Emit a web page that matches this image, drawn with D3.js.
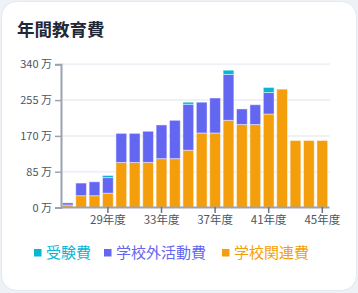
<!DOCTYPE html>
<html lang="ja">
<head>
<meta charset="UTF-8">
<title>年間教育費</title>
<script src="https://cdn.jsdelivr.net/npm/d3@7"></script>
<style>
  body { margin: 0; background: #eef2f7; font-family: "Noto Sans CJK JP", "Noto Sans", sans-serif; }
  svg { display: block; }
</style>
</head>
<body>
<script>
// 年度ごとの費用（万円）
var years = ["26年度","27年度","28年度","29年度","30年度","31年度","32年度","33年度","34年度","35年度",
             "36年度","37年度","38年度","39年度","40年度","41年度","42年度","43年度","44年度","45年度"];
var school = [6, 28, 28, 34, 107, 107, 107, 116, 116, 136, 177, 177, 207, 197, 197, 222, 281, 159, 159, 159];
var extra  = [5, 30, 33, 37, 69, 69, 74, 80, 91, 109, 73, 83, 109, 37, 47, 51, 0, 0, 0, 0];
var exam   = [0, 0, 0, 5, 0, 0, 0, 0, 0, 5, 0, 0, 10, 0, 0, 12, 0, 0, 0, 0];
var yTicks = [0, 85, 170, 255, 340];
var xTickYears = ["29年度","33年度","37年度","41年度","45年度"];

var seriesNames = ["学校関連費", "学校外活動費", "受験費"];
var colors = { "受験費": "#06b6d4", "学校外活動費": "#6366f1", "学校関連費": "#f59e0b" };

var w = 358, h = 293;
var svg = d3.select("body").append("svg").attr("width", w).attr("height", h);

// card
svg.append("rect")
  .attr("x", 1.5).attr("y", 1.5).attr("width", w - 3).attr("height", h - 4)
  .attr("rx", 15).attr("fill", "#fff").attr("stroke", "#e3e8ef");

svg.append("text")
  .attr("x", 17).attr("y", 36)
  .attr("font-size", 17.5).attr("font-weight", "bold").attr("fill", "#1f2937")
  .text("年間教育費");

var table = years.map(function(y, i) {
  return { year: y, "学校関連費": school[i], "学校外活動費": extra[i], "受験費": exam[i] };
});
var stacked = d3.stack().keys(seriesNames)(table);

var x = d3.scaleBand().domain(years).range([61, 329]).paddingInner(0.2).paddingOuter(0.1);
var y = d3.scaleLinear().domain([0, 340]).range([207.5, 64.3]);

// grid
svg.append("g").selectAll("line")
  .data(yTicks.slice(1))
  .enter().append("line")
  .attr("x1", 61).attr("x2", 330)
  .attr("y1", function(d) { return y(d); }).attr("y2", function(d) { return y(d); })
  .attr("stroke", "#eef2f7").attr("stroke-width", 2);

// bars
svg.append("g").selectAll("g")
  .data(stacked)
  .enter().append("g")
  .attr("fill", function(d) { return colors[d.key]; })
  .selectAll("rect")
  .data(function(d) { return d; })
  .enter().append("rect")
  .filter(function(d) { return d[1] - d[0] > 0; })
  .attr("x", function(d) { return x(d.data.year); })
  .attr("width", x.bandwidth())
  .attr("y", function(d) { return y(d[1]); })
  .attr("height", function(d) { return y(d[0]) - y(d[1]); })
  .attr("stroke", "#fff").attr("stroke-opacity", 0.45).attr("stroke-width", 1);

// y axis
var yAxis = svg.append("g")
  .attr("transform", "translate(61,0)")
  .call(d3.axisLeft(y).tickValues(yTicks).tickSize(6).tickPadding(3)
    .tickFormat(function(d) { return d + " 万"; }));
yAxis.select(".domain").attr("stroke", "#9ca3af").attr("stroke-width", 2);
yAxis.selectAll(".tick line").attr("stroke", "#9ca3af").attr("stroke-width", 1.5);
yAxis.selectAll("text").attr("font-size", 11).attr("fill", "#4b5563")
  .attr("font-family", "'Noto Sans CJK JP', sans-serif");

// x axis
var xAxis = svg.append("g")
  .attr("transform", "translate(0,207)")
  .call(d3.axisBottom(x).tickValues(xTickYears).tickSize(6).tickSizeOuter(0).tickPadding(3));
xAxis.select(".domain").attr("stroke", "#9ca3af").attr("stroke-width", 2);
xAxis.selectAll(".tick line").attr("stroke", "#6b7280").attr("stroke-width", 1.5);
xAxis.selectAll("text").attr("font-size", 11.5).attr("fill", "#4b5563")
  .attr("font-family", "'Noto Sans CJK JP', sans-serif");

// legend
var legendItems = [
  { name: "受験費", x: 34 },
  { name: "学校外活動費", x: 104 },
  { name: "学校関連費", x: 222 }
];
var lg = svg.append("g").selectAll("g")
  .data(legendItems)
  .enter().append("g")
  .attr("transform", function(d) { return "translate(" + d.x + ",0)"; });
lg.append("rect")
  .attr("x", 0).attr("y", 249).attr("width", 7.5).attr("height", 7.5)
  .attr("fill", function(d) { return colors[d.name]; });
lg.append("text")
  .attr("x", 12).attr("y", 258)
  .attr("font-size", 15)
  .attr("fill", function(d) { return colors[d.name]; })
  .text(function(d) { return d.name; });
</script>
</body>
</html>
